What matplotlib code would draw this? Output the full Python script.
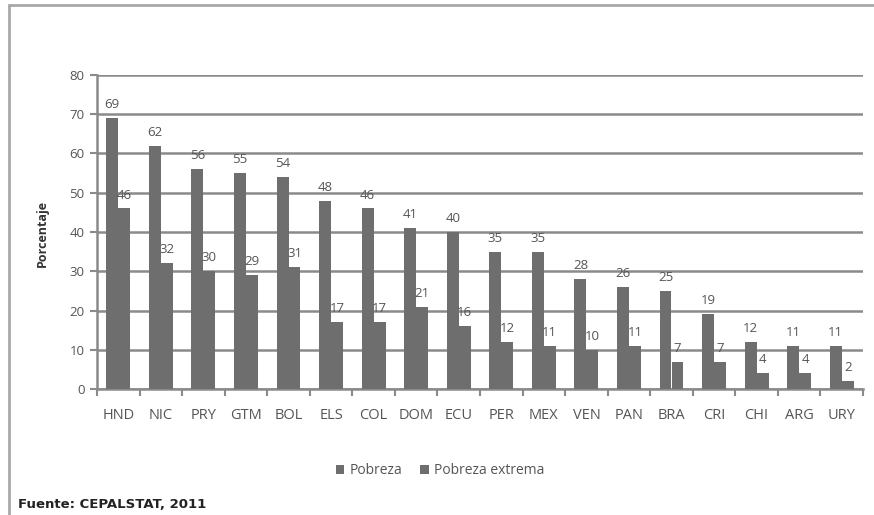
import matplotlib
matplotlib.use("Agg")
import matplotlib.pyplot as plt
import numpy as np
from matplotlib.patches import Rectangle

paises = ["HND", "NIC", "PRY", "GTM", "BOL", "ELS", "COL", "DOM", "ECU",
          "PER", "MEX", "VEN", "PAN", "BRA", "CRI", "CHI", "ARG", "URY"]
pobreza = [69, 62, 56, 55, 54, 48, 46, 41, 40, 35, 35, 28, 26, 25, 19, 12, 11, 11]
pobreza_extrema = [46, 32, 30, 29, 31, 17, 17, 21, 16, 12, 11, 10, 11, 7, 7, 4, 4, 2]
yticks = [0, 10, 20, 30, 40, 50, 60, 70, 80]

plt.rcParams["font.family"] = ["Open Sans", "DejaVu Sans"]
text_color = "#555555"
bar_color = "#6e6e6e"
grid_color = "#8a8a8a"

fig = plt.figure(figsize=(8.74, 5.15), dpi=100)
fig.patch.set_facecolor("white")

# outer frame of the chart area
fig.add_artist(Rectangle((9 / 874, -0.05), 1.2, 1 - 5 / 515 + 0.05,
                         transform=fig.transFigure, fill=False,
                         edgecolor="#a8a8a8", linewidth=2.0))

ax = fig.add_axes([97 / 874, 1 - 389 / 515, (863 - 97) / 874, (389 - 75) / 515])

x = np.arange(len(paises))
w = 0.28
b1 = ax.bar(x - w / 2, pobreza, width=w, color=bar_color, label="Pobreza", zorder=3)
b2 = ax.bar(x + w / 2, pobreza_extrema, width=w, color=bar_color,
            label="Pobreza extrema", zorder=3)

for rects, vals in ((b1, pobreza), (b2, pobreza_extrema)):
    for r, v in zip(rects, vals):
        ax.annotate(f"{v}", (r.get_x() + r.get_width() / 2, v),
                    xytext=(0, 5), textcoords="offset points",
                    ha="center", va="bottom", fontsize=9.5, color=text_color,
                    zorder=4)

ax.set_xlim(-0.5, len(paises) - 0.5)
ax.set_ylim(0, 80)
ax.set_yticks(yticks)
ax.yaxis.grid(True, color=grid_color, linewidth=1.8, zorder=1)
ax.set_axisbelow(True)

ax.set_xticks(x)
ax.set_xticklabels(paises)
ax.set_xticks(np.arange(len(paises) + 1) - 0.5, minor=True)
ax.tick_params(axis="x", which="major", length=0, pad=14, labelsize=10.5,
               colors=text_color)
ax.tick_params(axis="x", which="minor", length=5, width=1.5, color=grid_color,
               direction="out")
ax.tick_params(axis="y", length=5, width=1.5, color=grid_color, pad=4,
               labelsize=9.5, labelcolor=text_color)

for s in ("top", "right"):
    ax.spines[s].set_visible(False)
for s in ("left", "bottom"):
    ax.spines[s].set_color(grid_color)
    ax.spines[s].set_linewidth(1.8)

fig.text(42 / 874, 1 - 233 / 515, "Porcentaje", rotation=90, ha="center",
         va="center", fontsize=9, fontweight="bold", color="#333333")

ax.legend(loc="center", bbox_to_anchor=(440 / 874, 1 - 471 / 515),
          bbox_transform=fig.transFigure, ncol=2, frameon=False,
          fontsize=10, handlelength=0.6, handleheight=0.6,
          handletextpad=0.4, columnspacing=1.3, labelcolor=text_color)

fig.text(18 / 874, 1 - 505 / 515, "Fuente: CEPALSTAT, 2011",
         family=["Liberation Sans Narrow", "DejaVu Sans"],
         fontsize=9.5, fontweight="bold", color="#222222",
         ha="left", va="center")

fig.savefig("out.png", dpi=100, facecolor="white")
